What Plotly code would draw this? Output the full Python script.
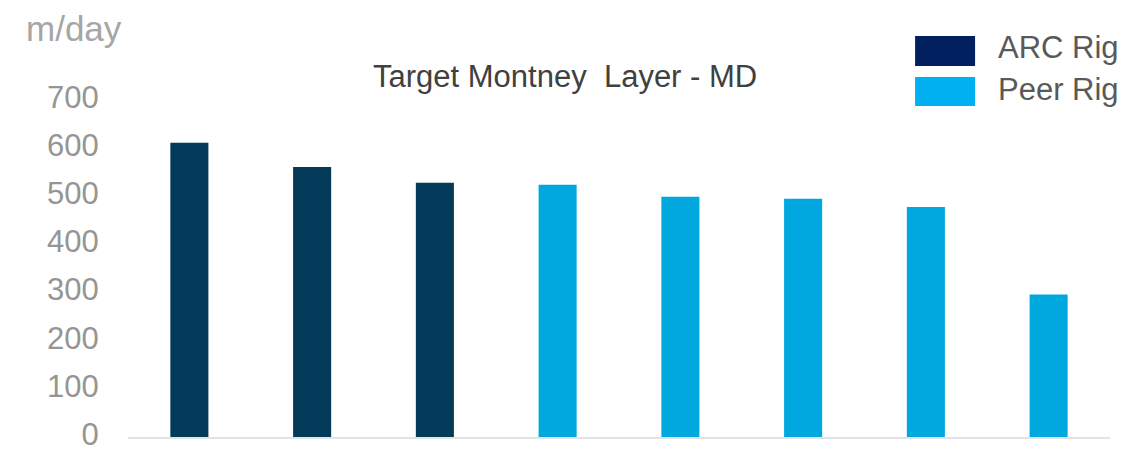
import plotly.graph_objects as go

# Data
categories = ["ARC 1", "ARC 2", "ARC 3", "Peer 1", "Peer 2", "Peer 3", "Peer 4", "Peer 5"]
arc_categories = categories[:3]
arc_values = [611, 561, 528]
peer_categories = categories[3:]
peer_values = [524, 499, 495, 478, 296]
y_ticks = [0, 100, 200, 300, 400, 500, 600, 700]

ARC_BAR = "#033A5A"
PEER_BAR = "#00A8DF"
ARC_LEG = "#012060"
PEER_LEG = "#00B0F0"
FONT = "Liberation Sans, Arial, sans-serif"

W, H = 1141, 450
ML, MR, MT, MB = 127.5, 31, 100, 13
PW = W - ML - MR
PH = H - MT - MB


def px_x(px):
    return (px - ML) / PW


def px_y(py):
    return (H - MB - py) / PH


fig = go.Figure()
fig.add_trace(go.Bar(x=arc_categories, y=arc_values, name="ARC Rig",
                     marker=dict(color=ARC_BAR, line=dict(width=0)), width=0.31))
fig.add_trace(go.Bar(x=peer_categories, y=peer_values, name="Peer Rig",
                     marker=dict(color=PEER_BAR, line=dict(width=0)), width=0.31))

fig.update_layout(
    width=W, height=H,
    margin=dict(l=ML, r=MR, t=MT, b=MB, pad=0, autoexpand=False),
    paper_bgcolor="white", plot_bgcolor="white",
    barmode="overlay",
    showlegend=False,
    font=dict(family=FONT),
    xaxis=dict(categoryorder="array", categoryarray=categories,
               showticklabels=False, showgrid=False, zeroline=False,
               showline=True, linecolor="#E3E3E3", linewidth=2, ticks="",
               range=[-0.5, 7.5], automargin=False),
    yaxis=dict(range=[0, 700], tickvals=y_ticks, showgrid=False, zeroline=False,
               showline=False, ticks="outside", ticklen=22, tickcolor="rgba(0,0,0,0)",
               ticklabeloverflow="allow", automargin=False, ticklabelshift=-3,
               tickfont=dict(size=31, color="#959595", family=FONT)),
)

anns = [
    dict(text="Target Montney  Layer - MD", x=px_x(564.5), y=px_y(76),
         xanchor="center", yanchor="middle",
         font=dict(size=31, color="#404040", family=FONT)),
    dict(text="m/day", x=px_x(23), y=px_y(29), xanchor="left", yanchor="middle",
         font=dict(size=35, color="#A6A6A6", family=FONT)),
    dict(text="ARC Rig", x=px_x(996), y=px_y(47), xanchor="left", yanchor="middle",
         font=dict(size=31, color="#595959", family=FONT)),
    dict(text="Peer Rig", x=px_x(996), y=px_y(89), xanchor="left", yanchor="middle",
         font=dict(size=31, color="#595959", family=FONT)),
]
for a in anns:
    a.update(xref="paper", yref="paper", showarrow=False)
fig.update_layout(annotations=anns)

fig.add_shape(type="rect", xref="paper", yref="paper",
              x0=px_x(915), x1=px_x(975), y0=px_y(66), y1=px_y(36),
              fillcolor=ARC_LEG, line=dict(width=0))
fig.add_shape(type="rect", xref="paper", yref="paper",
              x0=px_x(915), x1=px_x(975), y0=px_y(106), y1=px_y(77),
              fillcolor=PEER_LEG, line=dict(width=0))

fig.write_html("out.html", config={"displayModeBar": False},
               post_script="document.body.style.margin='0px';document.body.style.overflow='hidden';")
